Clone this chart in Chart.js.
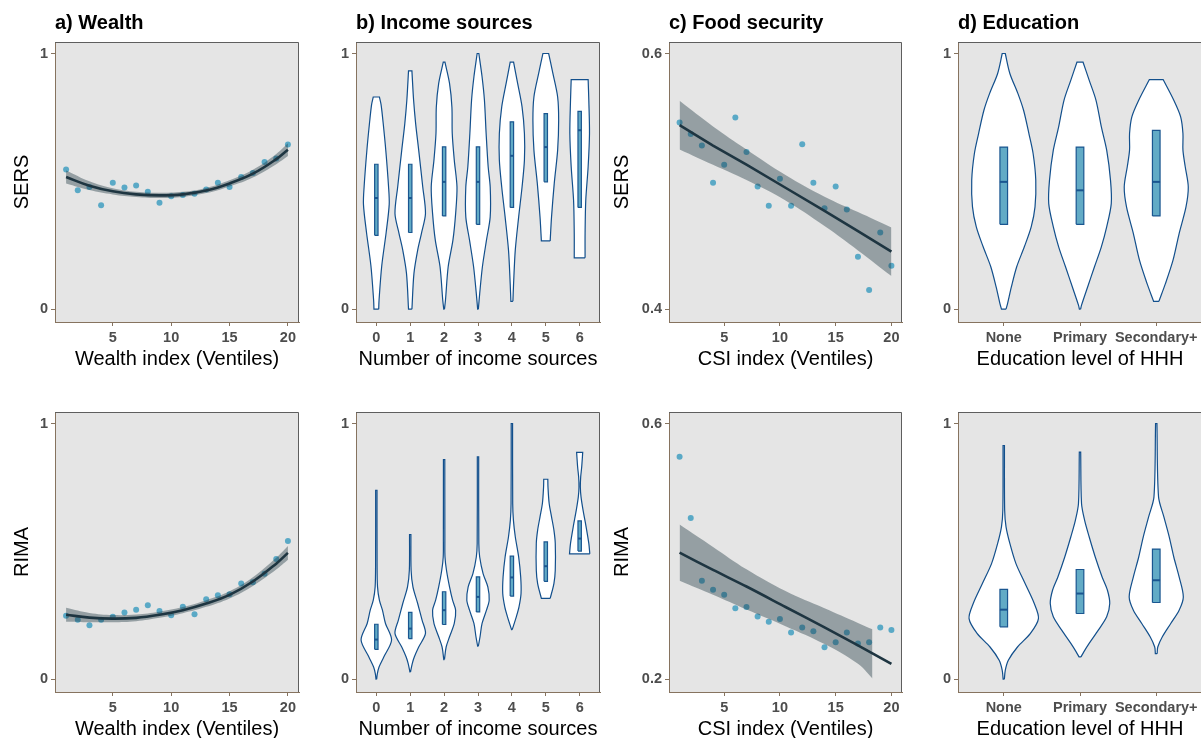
<!DOCTYPE html>
<html>
<head>
<meta charset="utf-8">
<title>Resilience scores</title>
<script src="https://cdn.jsdelivr.net/npm/chart.js@4.4.1/dist/chart.umd.min.js"></script>
<style>
    html, body { margin: 0; padding: 0; background: #fff; width: 1201px; height: 738px; overflow: hidden; }
    canvas { position: absolute; }
</style>
</head>
<body>
<canvas id="wealthSers"></canvas>
<canvas id="incomeSers"></canvas>
<canvas id="csiSers"></canvas>
<canvas id="eduSers"></canvas>
<canvas id="wealthRima"></canvas>
<canvas id="incomeRima"></canvas>
<canvas id="csiRima"></canvas>
<canvas id="eduRima"></canvas>
<script>
// ---- data ----
var ventiles = [1, 2, 3, 4, 5, 6, 7, 8, 9, 10, 11, 12, 13, 14, 15, 16, 17, 18, 19, 20];
var ventileTicks = [5, 10, 15, 20];
var ventileLabels = ['5', '10', '15', '20'];
var unitTicks = [0, 1];
var unitLabels = ['0', '1'];
var incomeCats = ['0', '1', '2', '3', '4', '5', '6'];
var eduCats = ['None', 'Primary', 'Secondary+'];

// a) wealth
var wealthSers = [0.546, 0.465, 0.478, 0.407, 0.495, 0.476, 0.484, 0.459, 0.416, 0.442, 0.447, 0.452, 0.468, 0.495, 0.478, 0.517, 0.533, 0.576, 0.589, 0.644];
var wealthRima = [0.248, 0.233, 0.211, 0.233, 0.244, 0.261, 0.272, 0.289, 0.267, 0.250, 0.283, 0.254, 0.313, 0.328, 0.332, 0.374, 0.379, 0.412, 0.470, 0.541];
var wealthFitX = [1, 3, 5, 7, 9, 11, 13, 15, 17, 19, 20];
var wealthSersFit = [0.517, 0.483, 0.461, 0.449, 0.445, 0.449, 0.464, 0.492, 0.530, 0.587, 0.624];
var wealthSersLo = [0.492, 0.466, 0.449, 0.439, 0.435, 0.439, 0.454, 0.480, 0.515, 0.567, 0.599];
var wealthSersHi = [0.542, 0.500, 0.473, 0.459, 0.455, 0.459, 0.474, 0.504, 0.545, 0.607, 0.649];
var wealthRimaFit = [0.252, 0.241, 0.237, 0.240, 0.252, 0.270, 0.296, 0.330, 0.382, 0.452, 0.494];
var wealthRimaLo = [0.225, 0.223, 0.223, 0.227, 0.240, 0.258, 0.283, 0.316, 0.365, 0.429, 0.467];
var wealthRimaHi = [0.279, 0.259, 0.251, 0.253, 0.264, 0.282, 0.309, 0.344, 0.399, 0.475, 0.521];

// c) food security
var csiSers = [0.546, 0.537, 0.528, 0.499, 0.513, 0.550, 0.523, 0.496, 0.481, 0.502, 0.481, 0.529, 0.499, 0.479, 0.496, 0.478, 0.441, 0.415, 0.460, 0.434];
var csiRima = [0.548, 0.452, 0.354, 0.340, 0.332, 0.311, 0.313, 0.298, 0.290, 0.294, 0.273, 0.281, 0.275, 0.250, 0.258, 0.273, 0.256, 0.258, 0.281, 0.277];
var csiFitX = [1, 4, 7, 10.5, 14, 17, 20];
var csiSersFit = [0.544, 0.528, 0.513, 0.495, 0.477, 0.461, 0.445];
var csiSersLo = [0.525, 0.513, 0.501, 0.485, 0.465, 0.446, 0.426];
var csiSersHi = [0.563, 0.543, 0.525, 0.505, 0.488, 0.476, 0.464];
var csiRimaFit = [0.398, 0.371, 0.345, 0.313, 0.281, 0.253, 0.224];
var csiRimaBandX = [1, 4, 7, 10.5, 14, 17, 18.3];
var csiRimaLo = [0.354, 0.332, 0.309, 0.283, 0.255, 0.224, 0.201];
var csiRimaHi = [0.442, 0.407, 0.372, 0.338, 0.311, 0.288, 0.278];

// b) income sources: [q1, median, q3] and violin outline [value, half width]
var incomeSersBox = [[0.289, 0.435, 0.567], [0.300, 0.435, 0.567], [0.365, 0.498, 0.635], [0.332, 0.498, 0.635], [0.398, 0.600, 0.733], [0.498, 0.634, 0.765], [0.398, 0.700, 0.774]];
var incomeSersViolin = [
    [[0, 0.07], [0.035, 0.08], [0.17, 0.16], [0.30, 0.29], [0.41, 0.38], [0.48, 0.36], [0.62, 0.28], [0.73, 0.20], [0.80, 0.14], [0.83, 0.09]],
    [[0, 0.05], [0.14, 0.11], [0.231, 0.22], [0.296, 0.33], [0.374, 0.45], [0.478, 0.37], [0.622, 0.25], [0.726, 0.16], [0.817, 0.10], [0.932, 0.05]],
    [[0, 0.01], [0.035, 0.04], [0.166, 0.12], [0.27, 0.26], [0.374, 0.34], [0.478, 0.38], [0.583, 0.30], [0.687, 0.24], [0.791, 0.23], [0.883, 0.16], [0.966, 0.025]],
    [[0, 0.01], [0.061, 0.05], [0.166, 0.13], [0.27, 0.25], [0.361, 0.36], [0.478, 0.36], [0.557, 0.30], [0.687, 0.24], [0.817, 0.19], [0.909, 0.12], [1, 0.025]],
    [[0.031, 0.03], [0.10, 0.05], [0.231, 0.10], [0.361, 0.20], [0.478, 0.30], [0.583, 0.37], [0.687, 0.37], [0.791, 0.30], [0.883, 0.17], [0.966, 0.05]],
    [[0.267, 0.13], [0.361, 0.17], [0.492, 0.25], [0.622, 0.35], [0.739, 0.38], [0.83, 0.35], [0.922, 0.21], [1, 0.085]],
    [[0.201, 0.16], [0.296, 0.16], [0.426, 0.18], [0.557, 0.25], [0.687, 0.29], [0.817, 0.27], [0.898, 0.25]]
];
var incomeRimaBox = [[0.117, 0.155, 0.215], [0.159, 0.198, 0.261], [0.214, 0.270, 0.342], [0.263, 0.322, 0.400], [0.325, 0.398, 0.481], [0.383, 0.442, 0.537], [0.501, 0.550, 0.619]];
var incomeRimaViolin = [
    [[0, 0.01], [0.022, 0.03], [0.048, 0.08], [0.087, 0.22], [0.153, 0.45], [0.218, 0.27], [0.270, 0.18], [0.309, 0.09], [0.361, 0.035], [0.45, 0.022], [0.739, 0.02]],
    [[0.029, 0.01], [0.061, 0.06], [0.087, 0.12], [0.126, 0.25], [0.179, 0.45], [0.231, 0.35], [0.296, 0.22], [0.361, 0.08], [0.426, 0.026], [0.566, 0.02]],
    [[0.077, 0.01], [0.126, 0.06], [0.166, 0.16], [0.218, 0.30], [0.27, 0.34], [0.309, 0.25], [0.361, 0.16], [0.426, 0.07], [0.478, 0.026], [0.55, 0.022], [0.859, 0.02]],
    [[0.129, 0.01], [0.166, 0.06], [0.218, 0.12], [0.27, 0.25], [0.309, 0.33], [0.361, 0.29], [0.413, 0.15], [0.478, 0.05], [0.531, 0.024], [0.87, 0.02]],
    [[0.194, 0.01], [0.244, 0.13], [0.283, 0.21], [0.335, 0.27], [0.40, 0.26], [0.478, 0.20], [0.557, 0.10], [0.622, 0.045], [0.687, 0.024], [1, 0.02]],
    [[0.316, 0.13], [0.374, 0.24], [0.426, 0.28], [0.531, 0.28], [0.583, 0.24], [0.635, 0.17], [0.687, 0.10], [0.752, 0.065], [0.782, 0.06]],
    [[0.490, 0.30], [0.531, 0.27], [0.596, 0.19], [0.661, 0.10], [0.713, 0.04], [0.752, 0.02], [0.791, 0.03], [0.830, 0.06], [0.887, 0.09]]
];

// d) education
var eduSersBox = [[0.332, 0.498, 0.634], [0.332, 0.465, 0.634], [0.365, 0.498, 0.699]];
var eduSersViolin = [
    [[0, 0.03], [0.022, 0.05], [0.087, 0.10], [0.166, 0.17], [0.244, 0.27], [0.322, 0.36], [0.40, 0.41], [0.505, 0.42], [0.609, 0.385], [0.687, 0.33], [0.778, 0.26], [0.844, 0.185], [0.922, 0.08], [1, 0.02]],
    [[0, 0.008], [0.016, 0.02], [0.087, 0.10], [0.166, 0.19], [0.244, 0.28], [0.322, 0.35], [0.413, 0.41], [0.505, 0.40], [0.622, 0.35], [0.713, 0.28], [0.817, 0.21], [0.896, 0.12], [0.966, 0.04]],
    [[0.031, 0.035], [0.10, 0.12], [0.192, 0.22], [0.296, 0.30], [0.40, 0.39], [0.478, 0.42], [0.557, 0.38], [0.622, 0.35], [0.687, 0.35], [0.752, 0.32], [0.817, 0.23], [0.898, 0.09]]
];
var eduRimaBox = [[0.205, 0.272, 0.351], [0.257, 0.335, 0.429], [0.300, 0.387, 0.509]];
var eduRimaViolin = [
    [[0, 0.008], [0.035, 0.02], [0.074, 0.06], [0.126, 0.18], [0.179, 0.35], [0.237, 0.455], [0.296, 0.40], [0.374, 0.28], [0.452, 0.16], [0.531, 0.08], [0.596, 0.03], [0.661, 0.012], [0.914, 0.009]],
    [[0.087, 0.012], [0.107, 0.05], [0.140, 0.12], [0.192, 0.24], [0.244, 0.35], [0.296, 0.39], [0.348, 0.36], [0.40, 0.29], [0.478, 0.20], [0.557, 0.12], [0.622, 0.06], [0.687, 0.02], [0.888, 0.009]],
    [[0.100, 0.012], [0.126, 0.02], [0.166, 0.08], [0.218, 0.19], [0.27, 0.30], [0.322, 0.355], [0.40, 0.30], [0.478, 0.23], [0.557, 0.17], [0.635, 0.10], [0.713, 0.03], [1, 0.009]]
];

// ---- styling ----
var axisColor = '#86735f';
var frameColor = '#5e5e5e';
var panelBg = '#e5e5e5';
var pointColor = '#5aa9c6';
var fitColor = '#1e3541';
var bandColor = 'rgba(30,54,66,0.4)';
var violinEdge = '#124f8c';
var boxFill = '#62abc6';
var boxEdge = '#1a5690';

Chart.defaults.font.family = '"Liberation Sans", Arial, Helvetica, sans-serif';

var panelFrame = {
    id: 'panelFrame',
    beforeDraw: function (chart) {
        var a = chart.chartArea, ctx = chart.ctx;
        ctx.save();
        ctx.fillStyle = panelBg;
        ctx.fillRect(a.left, a.top, a.right - a.left, a.bottom - a.top);
        ctx.restore();
    },
    afterDraw: function (chart) {
        var a = chart.chartArea, ctx = chart.ctx;
        ctx.save();
        ctx.strokeStyle = frameColor;
        ctx.lineWidth = 1;
        ctx.beginPath();
        ctx.moveTo(a.left, a.top + 0.5);
        ctx.lineTo(a.right - 0.5, a.top + 0.5);
        ctx.lineTo(a.right - 0.5, a.bottom);
        ctx.stroke();
        ctx.restore();
    }
};

function xy(xs, ys) {
    return xs.map(function (x, i) { return { x: x, y: ys[i] }; });
}

function axis(dir, range, title, size) {
    return {
        type: 'linear',
        min: range.min,
        max: range.max,
        afterBuildTicks: function (s) { s.ticks = range.ticks.map(function (v) { return { value: v }; }); },
        afterFit: dir === 'x' ? function (s) { s.height = size; } : function (s) { s.width = size; },
        grid: { drawOnChartArea: false, drawTicks: true, tickLength: 4, tickColor: axisColor, tickWidth: 1 },
        border: { color: axisColor, width: 1 },
        ticks: {
            color: '#4d4d4d', font: { size: 14.5, weight: 'bold' }, padding: 3,
            autoSkip: false, maxRotation: 0,
            callback: function (v, i) { return range.labels[i]; }
        },
        title: {
            display: !!title, text: title || '', color: '#000', font: { size: 20 },
            padding: dir === 'x' ? { top: 0, bottom: 0 } : { top: 10, bottom: 0 }
        }
    };
}

function makeChart(id, g, datasets, xr, yr, texts) {
    var canvas = document.getElementById(id);
    var titleH = g.row === 0 ? 42 : 0;
    var padTop = g.row === 0 ? 0 : 12;
    var w = g.yw + g.plotW + 6;
    var h = padTop + titleH + 280 + 49;
    canvas.width = w;
    canvas.height = h;
    canvas.style.width = w + 'px';
    canvas.style.height = h + 'px';
    canvas.style.left = g.left + 'px';
    canvas.style.top = (g.row === 0 ? 0 : 400) + 'px';

    return new Chart(canvas, {
        type: 'line',
        data: { datasets: datasets },
        options: {
            responsive: false,
            animation: false,
            devicePixelRatio: 1,
            events: [],
            layout: { padding: { top: padTop, right: 6, left: 0, bottom: 0 } },
            plugins: {
                legend: { display: false },
                tooltip: { enabled: false },
                title: {
                    display: !!texts.title, text: texts.title || '', align: 'start', fullSize: false,
                    color: '#000', font: { size: 20, weight: 'bold' }, padding: { top: 11, bottom: 7 }
                }
            },
            scales: {
                x: axis('x', xr, texts.x, 49),
                y: axis('y', yr, texts.y, g.yw)
            }
        },
        plugins: [panelFrame]
    });
}

function smoothDatasets(pts, fitX, fitY, bandX, lo, hi, fitTension) {
    return [
        { data: xy(ventiles, pts), showLine: false, pointRadius: 3, pointBackgroundColor: pointColor, pointBorderWidth: 0, order: 3 },
        { data: xy(bandX, lo), borderColor: 'transparent', borderWidth: 0, pointRadius: 0, fill: false, tension: 0.4, order: 2 },
        { data: xy(bandX, hi), borderColor: 'transparent', borderWidth: 0, pointRadius: 0, fill: '-1', backgroundColor: bandColor, tension: 0.4, order: 2 },
        { data: xy(fitX, fitY), borderColor: fitColor, borderWidth: 2.6, pointRadius: 0, fill: false, tension: fitTension, order: 1 }
    ];
}

function violinOutline(c, prof) {
    var right = prof.map(function (p) { return { x: c + p[1], y: p[0] }; });
    var left = prof.slice().reverse().map(function (p) { return { x: c - p[1], y: p[0] }; });
    var n = right.length - 1;
    return [right[0]].concat(right, [right[n], left[0]], left, [left[n], right[0]]);
}

function violinDatasets(violins, boxes) {
    var out = [];
    var hw = 0.05;
    violins.forEach(function (prof, i) {
        var q = boxes[i];
        out.push({ data: violinOutline(i, prof), borderColor: violinEdge, borderWidth: 1.2, backgroundColor: '#fff', fill: 'shape', pointRadius: 0, tension: 0.3, order: 3 });
        out.push({
            data: [{ x: i - hw, y: q[0] }, { x: i + hw, y: q[0] }, { x: i + hw, y: q[2] }, { x: i - hw, y: q[2] }, { x: i - hw, y: q[0] }],
            borderColor: boxEdge, borderWidth: 1.2, backgroundColor: boxFill, fill: 'shape', pointRadius: 0, tension: 0, order: 2
        });
        out.push({ data: [{ x: i - hw, y: q[1] }, { x: i + hw, y: q[1] }], borderColor: boxEdge, borderWidth: 2, pointRadius: 0, order: 1 });
    });
    return out;
}

var ventileRange = { min: 0.05, max: 20.95, ticks: ventileTicks, labels: ventileLabels };
var unitRange = { min: -0.05, max: 1.045, ticks: unitTicks, labels: unitLabels };
var incomeRange = { min: -0.6, max: 6.6, ticks: [0, 1, 2, 3, 4, 5, 6], labels: incomeCats };
var eduRange = { min: -0.6, max: 2.6, ticks: [0, 1, 2], labels: eduCats };
var csiSersRange = { min: 0.39, max: 0.609, ticks: [0.4, 0.6], labels: ['0.4', '0.6'] };
var csiRimaRange = { min: 0.18, max: 0.618, ticks: [0.2, 0.6], labels: ['0.2', '0.6'] };

var colA = { left: 0, yw: 55, plotW: 244 };
var colB = { left: 300, yw: 56, plotW: 244 };
var colC = { left: 600, yw: 69, plotW: 233 };
var colD = { left: 900, yw: 58, plotW: 244 };
function at(col, row) { return { left: col.left, yw: col.yw, plotW: col.plotW, row: row }; }

makeChart('wealthSers', at(colA, 0), smoothDatasets(wealthSers, wealthFitX, wealthSersFit, wealthFitX, wealthSersLo, wealthSersHi, 0.4),
    ventileRange, unitRange, { title: 'a) Wealth', x: 'Wealth index (Ventiles)', y: 'SERS' });
makeChart('wealthRima', at(colA, 1), smoothDatasets(wealthRima, wealthFitX, wealthRimaFit, wealthFitX, wealthRimaLo, wealthRimaHi, 0.4),
    ventileRange, unitRange, { x: 'Wealth index (Ventiles)', y: 'RIMA' });

makeChart('incomeSers', at(colB, 0), violinDatasets(incomeSersViolin, incomeSersBox),
    incomeRange, unitRange, { title: 'b) Income sources', x: 'Number of income sources' });
makeChart('incomeRima', at(colB, 1), violinDatasets(incomeRimaViolin, incomeRimaBox),
    incomeRange, unitRange, { x: 'Number of income sources' });

makeChart('csiSers', at(colC, 0), smoothDatasets(csiSers, csiFitX, csiSersFit, csiFitX, csiSersLo, csiSersHi, 0),
    ventileRange, csiSersRange, { title: 'c) Food security', x: 'CSI index (Ventiles)', y: 'SERS' });
makeChart('csiRima', at(colC, 1), smoothDatasets(csiRima, csiFitX, csiRimaFit, csiRimaBandX, csiRimaLo, csiRimaHi, 0.3),
    ventileRange, csiRimaRange, { x: 'CSI index (Ventiles)', y: 'RIMA' });

makeChart('eduSers', at(colD, 0), violinDatasets(eduSersViolin, eduSersBox),
    eduRange, unitRange, { title: 'd) Education', x: 'Education level of HHH' });
makeChart('eduRima', at(colD, 1), violinDatasets(eduRimaViolin, eduRimaBox),
    eduRange, unitRange, { x: 'Education level of HHH' });
</script>
</body>
</html>
